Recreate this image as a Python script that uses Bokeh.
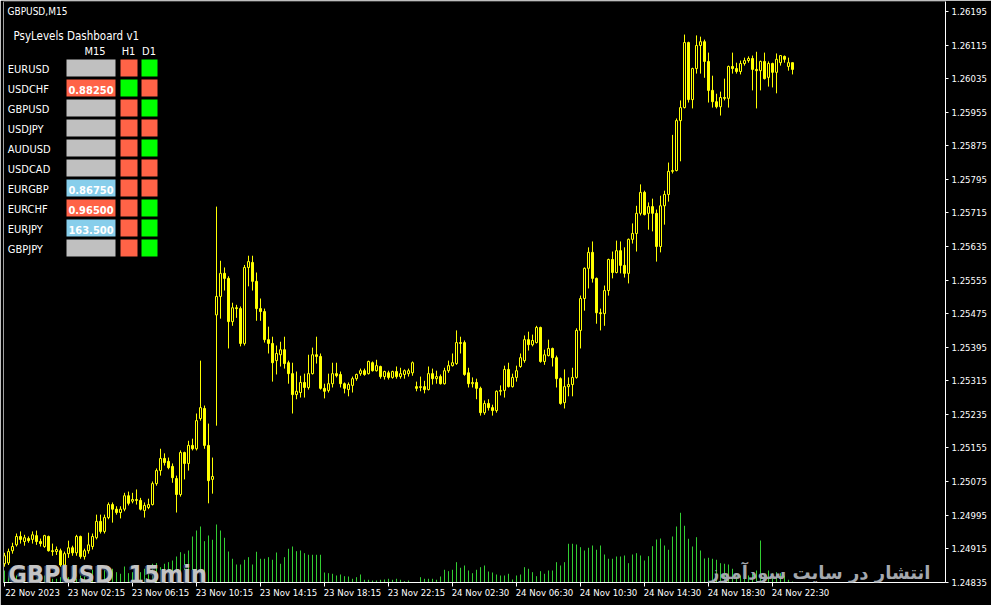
from bokeh.plotting import figure
from bokeh.models import (Range1d, LinearAxis, FixedTicker, PrintfTickFormatter,
                          ColumnDataSource, Label, BoxAnnotation, Span)
from bokeh.embed import file_html
from bokeh.resources import INLINE

# ---------------- data (GBPUSD M15, 198 bars) ----------------
opens = [1.24879,1.24881,1.24910,1.24924,1.24944,1.24932,1.24939,1.24937,1.24946,1.24932,
1.24920,1.24944,1.24910,1.24908,1.24910,1.24876,1.24903,1.24917,1.24905,1.24944,
1.24896,1.24910,1.24920,1.24941,1.24980,1.24956,1.24989,1.25020,1.25009,1.25001,
1.25009,1.25041,1.25028,1.25032,1.25030,1.25006,1.25013,1.25020,1.25070,1.25101,
1.25130,1.25123,1.25111,1.25082,1.25044,1.25144,1.25118,1.25161,1.25153,1.25225,
1.25249,1.25161,1.25080,1.25472,1.25516,1.25571,1.25559,1.25456,1.25489,1.25487,
1.25404,1.25585,1.25597,1.25552,1.25487,1.25480,1.25413,1.25404,1.25363,1.25377,
1.25389,1.25358,1.25332,1.25282,1.25287,1.25311,1.25299,1.25332,1.25377,1.25373,
1.25297,1.25292,1.25308,1.25332,1.25330,1.25308,1.25294,1.25304,1.25320,1.25332,
1.25339,1.25332,1.25358,1.25339,1.25349,1.25325,1.25334,1.25323,1.25337,1.25325,
1.25330,1.25332,1.25334,1.25301,1.25299,1.25301,1.25294,1.25332,1.25320,1.25325,
1.25308,1.25339,1.25351,1.25356,1.25406,1.25406,1.25334,1.25308,1.25311,1.25297,
1.25239,1.25261,1.25251,1.25244,1.25290,1.25292,1.25342,1.25301,1.25323,1.25349,
1.25363,1.25413,1.25401,1.25406,1.25442,1.25361,1.25375,1.25392,1.25370,1.25320,
1.25263,1.25301,1.25306,1.25323,1.25435,1.25511,1.25583,1.25621,1.25559,1.25477,
1.25475,1.25530,1.25604,1.25573,1.25625,1.25590,1.25571,1.25652,1.25666,1.25714,
1.25764,1.25714,1.25730,1.25714,1.25635,1.25732,1.25759,1.25814,1.25816,1.25935,
1.25966,1.26121,1.25985,1.26059,1.26114,1.26123,1.26076,1.26007,1.25980,1.25968,
1.25990,1.25988,1.26064,1.26059,1.26052,1.26071,1.26078,1.26083,1.26057,1.26054,
1.26076,1.26038,1.26071,1.26050,1.26073,1.26088,1.26064,1.26073]
highs = [1.24905,1.24915,1.24929,1.24951,1.24956,1.24948,1.24944,1.24956,1.24958,1.24939,
1.24948,1.24946,1.24927,1.24920,1.24915,1.24908,1.24934,1.24922,1.24948,1.24946,
1.24915,1.24953,1.24951,1.24996,1.24996,1.24996,1.25025,1.25025,1.25016,1.25016,
1.25048,1.25051,1.25048,1.25056,1.25036,1.25025,1.25034,1.25075,1.25106,1.25153,
1.25142,1.25132,1.25118,1.25089,1.25149,1.25146,1.25172,1.25177,1.25237,1.25363,
1.25256,1.25213,1.25132,1.25730,1.25601,1.25585,1.25564,1.25501,1.25496,1.25492,
1.25591,1.25613,1.25613,1.25573,1.25511,1.25487,1.25444,1.25420,1.25399,1.25408,
1.25420,1.25363,1.25358,1.25337,1.25327,1.25332,1.25377,1.25394,1.25420,1.25380,
1.25308,1.25332,1.25358,1.25358,1.25337,1.25311,1.25311,1.25325,1.25332,1.25344,
1.25344,1.25363,1.25361,1.25365,1.25351,1.25339,1.25339,1.25339,1.25349,1.25346,
1.25342,1.25344,1.25361,1.25313,1.25325,1.25315,1.25349,1.25344,1.25339,1.25330,
1.25346,1.25363,1.25380,1.25435,1.25420,1.25411,1.25346,1.25323,1.25320,1.25301,
1.25268,1.25271,1.25258,1.25292,1.25304,1.25351,1.25358,1.25332,1.25351,1.25380,
1.25423,1.25432,1.25425,1.25446,1.25444,1.25389,1.25413,1.25394,1.25375,1.25323,
1.25342,1.25323,1.25346,1.25440,1.25518,1.25585,1.25633,1.25647,1.25561,1.25487,
1.25542,1.25606,1.25623,1.25649,1.25647,1.25633,1.25654,1.25690,1.25732,1.25783,
1.25768,1.25740,1.25749,1.25723,1.25756,1.25768,1.25835,1.25901,1.25940,1.25983,
1.26140,1.26123,1.26061,1.26138,1.26135,1.26128,1.26097,1.26042,1.25999,1.26004,
1.26035,1.26066,1.26097,1.26073,1.26078,1.26085,1.26088,1.26090,1.26099,1.26078,
1.26097,1.26076,1.26073,1.26095,1.26090,1.26090,1.26085,1.26073]
lows = [1.24872,1.24876,1.24903,1.24920,1.24927,1.24922,1.24929,1.24927,1.24924,1.24920,
1.24917,1.24908,1.24898,1.24900,1.24872,1.24872,1.24893,1.24898,1.24898,1.24891,
1.24889,1.24903,1.24913,1.24937,1.24951,1.24951,1.24985,1.24977,1.24996,1.24987,
1.25004,1.25018,1.25023,1.25020,1.25006,1.24989,1.25009,1.25018,1.25065,1.25089,
1.25113,1.25104,1.25072,1.25001,1.25039,1.25080,1.25101,1.25149,1.25149,1.25220,
1.25153,1.25023,1.25046,1.25208,1.25463,1.25530,1.25392,1.25446,1.25465,1.25397,
1.25399,1.25540,1.25530,1.25458,1.25458,1.25406,1.25380,1.25313,1.25330,1.25349,
1.25344,1.25308,1.25237,1.25271,1.25275,1.25275,1.25294,1.25330,1.25356,1.25294,
1.25273,1.25287,1.25299,1.25323,1.25299,1.25285,1.25278,1.25287,1.25315,1.25327,
1.25327,1.25330,1.25337,1.25337,1.25320,1.25318,1.25318,1.25320,1.25320,1.25320,
1.25320,1.25325,1.25327,1.25290,1.25290,1.25285,1.25292,1.25306,1.25308,1.25306,
1.25306,1.25334,1.25349,1.25353,1.25380,1.25327,1.25299,1.25299,1.25271,1.25232,
1.25234,1.25244,1.25232,1.25239,1.25280,1.25275,1.25299,1.25299,1.25313,1.25346,
1.25358,1.25387,1.25397,1.25404,1.25358,1.25353,1.25373,1.25349,1.25299,1.25258,
1.25249,1.25278,1.25278,1.25320,1.25392,1.25482,1.25535,1.25549,1.25451,1.25435,
1.25446,1.25518,1.25559,1.25571,1.25571,1.25561,1.25547,1.25642,1.25623,1.25709,
1.25709,1.25675,1.25671,1.25599,1.25621,1.25687,1.25742,1.25809,1.25814,1.25838,
1.25964,1.25978,1.25964,1.26047,1.26047,1.26037,1.25978,1.25966,1.25964,1.25947,
1.25983,1.25966,1.26047,1.26047,1.26045,1.26066,1.26073,1.26007,1.25964,1.26007,
1.26033,1.26016,1.26014,1.26000,1.26066,1.26073,1.26054,1.26045]
closes = [1.24898,1.24908,1.24920,1.24944,1.24937,1.24941,1.24934,1.24948,1.24932,1.24927,
1.24946,1.24910,1.24908,1.24913,1.24876,1.24903,1.24917,1.24905,1.24944,1.24896,
1.24910,1.24924,1.24944,1.24980,1.24956,1.24989,1.25020,1.25009,1.25001,1.25009,
1.25041,1.25023,1.25032,1.25030,1.25009,1.25018,1.25020,1.25070,1.25101,1.25130,
1.25120,1.25108,1.25084,1.25044,1.25144,1.25118,1.25161,1.25153,1.25220,1.25251,
1.25161,1.25077,1.25087,1.25516,1.25571,1.25559,1.25456,1.25489,1.25487,1.25404,
1.25585,1.25599,1.25552,1.25487,1.25480,1.25413,1.25404,1.25358,1.25380,1.25389,
1.25356,1.25332,1.25282,1.25290,1.25311,1.25299,1.25332,1.25377,1.25373,1.25297,
1.25290,1.25308,1.25332,1.25327,1.25308,1.25297,1.25306,1.25320,1.25330,1.25339,
1.25330,1.25361,1.25339,1.25351,1.25325,1.25337,1.25323,1.25337,1.25325,1.25332,
1.25339,1.25339,1.25358,1.25297,1.25301,1.25294,1.25332,1.25320,1.25325,1.25308,
1.25339,1.25351,1.25358,1.25406,1.25404,1.25330,1.25308,1.25311,1.25297,1.25239,
1.25261,1.25251,1.25244,1.25290,1.25292,1.25342,1.25301,1.25323,1.25339,1.25370,
1.25413,1.25401,1.25411,1.25442,1.25361,1.25377,1.25392,1.25370,1.25320,1.25261,
1.25301,1.25306,1.25323,1.25435,1.25511,1.25583,1.25621,1.25559,1.25477,1.25475,
1.25530,1.25604,1.25573,1.25625,1.25590,1.25571,1.25652,1.25666,1.25714,1.25764,
1.25711,1.25730,1.25714,1.25635,1.25732,1.25759,1.25814,1.25816,1.25935,1.25966,
1.26121,1.25985,1.26059,1.26114,1.26123,1.26076,1.26007,1.25980,1.25968,1.25990,
1.25988,1.26064,1.26059,1.26052,1.26071,1.26078,1.26083,1.26057,1.26054,1.26076,
1.26035,1.26071,1.26050,1.26081,1.26090,1.26081,1.26073,1.26057]
volumes = [300,175,133,175,133,133,93,50,93,175,175,133,93,93,133,133,133,50,93,175,
175,175,318,175,300,318,383,343,258,218,400,233,258,300,258,343,425,468,483,383,
468,508,550,650,758,718,800,1150,1300,1400,1033,1175,1068,1450,1300,1118,775,593,450,450,
568,633,450,768,593,593,633,568,750,468,633,843,900,783,800,733,693,693,693,693,
250,233,218,175,200,158,150,93,133,200,68,68,50,50,68,75,93,68,93,68,
33,50,8,8,133,93,93,93,68,150,318,283,318,508,368,425,300,233,318,383,
425,275,250,200,175,175,218,75,175,200,383,343,258,158,283,218,300,300,508,425,
508,968,968,950,883,800,868,925,818,925,700,593,593,650,650,675,483,700,733,675,
550,658,908,1075,1100,925,818,1150,1400,1743,1418,1093,900,1133,800,600,618,593,568,483,
468,450,343,150,175,118,175,218,300,1050,218,300,233,258,233,175,68,25]

price_ticks = [1.26195,1.26115,1.26035,1.25955,1.25875,1.25795,1.25715,1.25635,1.25555,
               1.25475,1.25395,1.25315,1.25235,1.25155,1.25075,1.24995,1.24915,1.24835]
time_tick_bars = [0,16,32,48,64,80,96,112,128,144,160,176,192]
time_tick_labels = ["22 Nov 2023","23 Nov 02:15","23 Nov 06:15","23 Nov 10:15","23 Nov 14:15",
                    "23 Nov 18:15","23 Nov 22:15","24 Nov 02:30","24 Nov 06:30","24 Nov 10:30",
                    "24 Nov 14:30","24 Nov 18:30","24 Nov 22:30"]

# dashboard
pairs = ["EURUSD","USDCHF","GBPUSD","USDJPY","AUDUSD","USDCAD","EURGBP","EURCHF","EURJPY","GBPJPY"]
m15_levels = ["","0.88250","","","","","0.86750","0.96500","163.500",""]
m15_state = ["none","sell","none","none","none","none","buy","sell","buy","none"]
h1_state = ["sell","buy","sell","sell","sell","sell","sell","sell","sell","sell"]
d1_state = ["buy","sell","buy","sell","buy","sell","sell","buy","buy","buy"]

# ---------------- styling / layout ----------------
YELLOW = "#FFFF00"
FONT = "DejaVu Sans Condensed"
FRAME_W, FRAME_H = 942, 581
LEFT, TOP = 3, 1
FB = TOP + FRAME_H          # frame bottom in page pixels
TXT_DY = 3.5                # baseline correction for labels

x = list(range(len(opens)))
tops = [max(a, b) for a, b in zip(opens, closes)]
bots = [min(a, b) for a, b in zip(opens, closes)]
fills = ["#000000" if c > o else YELLOW for o, c in zip(opens, closes)]
src = ColumnDataSource(dict(x=x, o=opens, h=highs, l=lows, c=closes, v=volumes,
                            top=tops, bot=bots, fill=fills))

x0 = -0.25
p = figure(frame_width=FRAME_W, frame_height=FRAME_H,
           x_range=Range1d(x0, x0 + FRAME_W / 4.0),
           y_range=Range1d(1.248343, 1.262188),
           output_backend="svg", toolbar_location=None,
           x_axis_location=None, y_axis_location=None,
           min_border_left=LEFT, min_border_right=46, min_border_top=TOP, min_border_bottom=23,
           background_fill_color="black", border_fill_color="black",
           outline_line_color=None)
p.grid.visible = False
p.extra_y_ranges = {"vol": Range1d(0, 14525)}

# volumes
p.segment(x0="x", y0=0, x1="x", y1="v", source=src, y_range_name="vol",
          line_color="#32CD32", line_width=1)
# candles
p.segment(x0="x", y0="l", x1="x", y1="h", source=src, line_color=YELLOW, line_width=1)
p.vbar(x="x", width=0.5, top="top", bottom="bot", source=src,
       fill_color="fill", line_color=YELLOW, line_width=1)

# axes
yax = LinearAxis(ticker=FixedTicker(ticks=price_ticks),
                 formatter=PrintfTickFormatter(format="%.5f"),
                 axis_line_color="white", major_tick_line_color="white",
                 major_tick_out=3, major_tick_in=0, minor_tick_line_color=None,
                 major_label_text_color="white", major_label_text_font=FONT,
                 major_label_text_font_size="9.5px", major_label_standoff=3)
p.add_layout(yax, "right")

xax_t = LinearAxis(ticker=FixedTicker(ticks=time_tick_bars),
                   axis_line_color="white", major_tick_line_color="white",
                   major_tick_out=4, major_tick_in=0, minor_tick_line_color=None,
                   major_label_text_font_size="1px", major_label_standoff=0,
                   major_label_overrides={b: "" for b in time_tick_bars})
p.add_layout(xax_t, "below")
LBL_OFF = 7
xax_l = LinearAxis(ticker=FixedTicker(ticks=[b + LBL_OFF for b in time_tick_bars]),
                   axis_line_color=None, major_tick_line_color=None,
                   minor_tick_line_color=None,
                   major_label_overrides={b + LBL_OFF: t for b, t in zip(time_tick_bars, time_tick_labels)},
                   major_label_text_color="white", major_label_text_font=FONT,
                   major_label_text_font_size="9.5px", major_label_standoff=-6)
p.add_layout(xax_l, "below")

p.add_layout(Span(location=x0, dimension="height", line_color="white", line_width=1))

# ---------------- texts / dashboard (frame-relative screen units) ----------------
def sx(fx):
    return fx - LEFT

def sy(fy):
    return FB - fy

def label(txt, fx, fy, size, color="white", align="left", style="normal", font=FONT):
    p.add_layout(Label(x=sx(fx), y=sy(fy - TXT_DY), x_units="screen", y_units="screen", text=txt,
                       text_font=font, text_font_size=size, text_color=color,
                       text_align=align, text_baseline="alphabetic", text_font_style=style))

def box(fx0, fx1, fy0, fy1, color):
    p.add_layout(BoxAnnotation(left=sx(fx0), right=sx(fx1), top=sy(fy0), bottom=sy(fy1),
                               left_units="screen", right_units="screen",
                               top_units="screen", bottom_units="screen",
                               fill_color=color, fill_alpha=1.0, line_color=None))

label("GBPUSD,M15", 7, 14, "10px")
label("PsyLevels Dashboard v1", 13, 39.3, "11.5px")
label("M15", 94.5, 54, "11px", align="center")
label("H1", 128, 54, "11px", align="center")
label("D1", 148.5, 54, "11px", align="center")

m15_colors = {"none": "#C0C0C0", "sell": "#FF6347", "buy": "#87CEEB"}
hd_colors = {"sell": "#FF6347", "buy": "#00FF00"}
for r, name in enumerate(pairs):
    ytop = 59 + 20 * r
    label(name, 7.3, 72.7 + 20 * r, "11px")
    box(66, 115, ytop, ytop + 17, m15_colors[m15_state[r]])
    box(120, 137, ytop, ytop + 17, hd_colors[h1_state[r]])
    box(141, 157, ytop, ytop + 17, hd_colors[d1_state[r]])
    if m15_levels[r]:
        label(m15_levels[r], 90.5, 72.7 + 20 * r, "11px", align="center", style="bold")

# watermarks
WM_FONT = "DejaVu Sans Condensed"
for txt, fx in (("GBPUSD", 8), ("15min", 128)):
    label(txt, fx - 1.5, 578, "25px", color="#34405A", style="bold", font=WM_FONT)
    label(txt, fx, 577, "25px", color="#C4C4C4", style="bold", font=WM_FONT)
label("انتشار در سایت سودآموز", 930, 575, "18px", color="#A4A8AE", align="right",
      style="bold", font="DejaVu Sans")

open("out.html", "w").write(file_html(p, INLINE))
